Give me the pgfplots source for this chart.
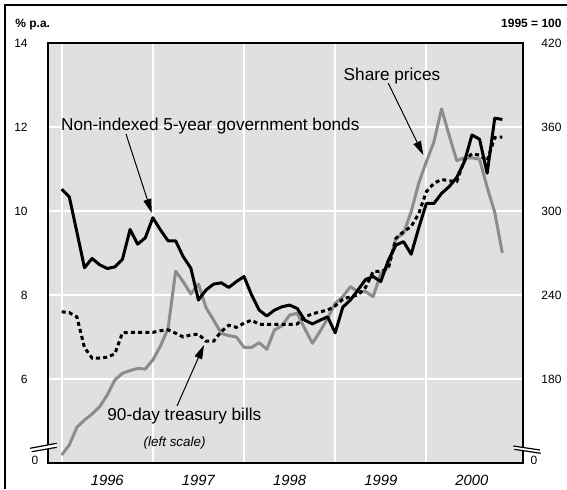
\documentclass[border=0pt]{standalone}
\usepackage{pgfplots}
\pgfplotsset{compat=1.18}
\usepackage{pgfplotstable}
\usepackage{fontspec}
\setmainfont{Liberation Sans}
\usetikzlibrary{arrows.meta}

\definecolor{panel}{RGB}{224,224,224}
\definecolor{shares}{RGB}{140,140,140}

% m = months since Jan 1996; bond and bills in % p.a., shares 1995 = 100
\pgfplotstableread{
m  bond   bills  shares
0  10.52  7.60   125.7
1  10.34  7.58   132.9
2  9.50   7.48   145.5
3  8.65   6.75   150.7
4  8.87   6.50   155.0
5  8.72   6.50   160.2
6  8.63   6.52   168.6
7  8.67   6.60   179.3
8  8.85   7.10   184.1
9  9.56   7.11   186.0
10 9.21   7.11   187.5
11 9.36   7.11   187.1
12 9.84   7.11   193.6
13 9.55   7.15   203.6
14 9.29   7.17   216.0
15 9.29   7.09   257.0
16 8.91   7.00   249.5
17 8.64   7.05   240.7
18 7.88   7.07   247.9
19 8.12   6.90   231.0
20 8.26   6.90   222.0
21 8.29   7.13   212.6
22 8.18   7.28   211.0
23 8.32   7.23   210.0
24 8.44   7.33   202.6
25 8.00   7.40   202.6
26 7.64   7.30   205.9
27 7.50   7.30   201.2
28 7.64   7.30   215.0
29 7.72   7.30   218.0
30 7.76   7.30   225.7
31 7.68   7.31   226.9
32 7.40   7.48   216.0
33 7.31   7.55   205.5
34 7.40   7.60   214.0
35 7.48   7.64   223.3
36 7.10   7.74   234.1
37 7.71   7.90   238.8
38 7.88   7.96   246.0
39 8.12   8.00   242.4
40 8.37   8.18   242.4
41 8.44   8.56   238.8
42 8.32   8.56   255.5
43 8.83   8.64   260.2
44 9.19   9.35   280.5
45 9.27   9.51   284.1
46 8.97   9.63   299.5
47 9.60   9.94   320.0
48 10.18  10.46  335.2
49 10.18  10.66  349.5
50 10.42  10.75  373.0
51 10.58  10.72  354.0
52 10.80  10.70  336.0
53 11.17  11.21  338.0
54 11.81  11.36  338.0
55 11.71  11.33  337.0
56 10.90  11.20  317.0
57 12.21  11.75  299.0
58 12.18  11.76  270.0
}\rates

\begin{document}
\begin{tikzpicture}
% right scale: panel, grid, year labels, share prices
\begin{axis}[
    scale only axis,
    width=237.5pt, height=210pt,
    xmin=-1.8, xmax=60.72,
    ymin=120, ymax=420,
    axis background/.style={fill=panel},
    axis line style={black, line width=0.6pt},
    ytick={180,240,300,360,420},
    yticklabel pos=right,
    yticklabel style={anchor=west, inner sep=0pt, xshift=9pt, font=\fontsize{6}{7}\selectfont},
    xtick={6,18,30,42,54},
    xticklabels={1996,1997,1998,1999,2000},
    xticklabel style={anchor=north, inner sep=0pt, yshift=-5.85pt, font=\fontsize{7.4}{8}\selectfont\itshape},
    extra x ticks={0,12,24,36,48},
    extra x tick labels={,,,,},
    extra x tick style={grid=major},
    ymajorgrids,
    grid style={white, line width=1pt},
    major tick length=0pt,
    /pgf/number format/assume math mode=true,
    /pgf/number format/1000 sep={},
]
\addplot[shares, line width=1.5pt, line join=round] table[x=m, y=shares]{\rates};
\end{axis}
% left scale: bonds and bills
\begin{axis}[
    scale only axis,
    width=237.5pt, height=210pt,
    xmin=-1.8, xmax=60.72,
    ymin=4, ymax=14,
    axis line style={black, line width=0.6pt},
    ytick={6,8,10,12,14},
    yticklabel style={anchor=east, inner sep=0pt, xshift=-10pt, font=\fontsize{6}{7}\selectfont},
    xtick=\empty,
    major tick length=0pt,
    /pgf/number format/assume math mode=true,
]
\addplot[black, line width=1.5pt, dash pattern=on 2pt off 1.6pt] table[x=m, y=bills]{\rates};
\addplot[black, line width=1.5pt, line join=round] table[x=m, y=bond]{\rates};
\end{axis}

\begin{scope}[x=0.5pt, y=-0.5pt, shift={(-24pt,231.5pt)}]
  \draw[line width=0.8pt] (5,489) -- (5,5) -- (567,5);
  \node[anchor=base west, inner sep=0pt, font=\fontsize{6}{7}\selectfont\bfseries] at (15,27) {\% p.a.};
  \node[anchor=base east, inner sep=0pt, font=\fontsize{6}{7}\selectfont\bfseries] at (562,27) {1995 = 100};
  \node[anchor=base west, inner sep=0pt, font=\fontsize{8.6}{10}\selectfont] at (60.7,130) {Non-indexed 5-year government bonds};
  \node[anchor=base, inner sep=0pt, font=\fontsize{8.6}{10}\selectfont] at (392,80) {Share prices};
  \node[anchor=base west, inner sep=0pt, font=\fontsize{8.6}{10}\selectfont] at (107,420) {90-day treasury bills};
  \node[anchor=base west, inner sep=0pt, font=\fontsize{6.7}{8}\selectfont\itshape] at (143.3,446) {(left scale)};
  \draw[line width=0.5pt, -{Triangle[length=7pt,width=4pt]}] (126,134) -- (151.7,213);
  \draw[line width=0.5pt, -{Triangle[length=7pt,width=4pt]}] (388.3,83.3) -- (423.3,155);
  \draw[line width=0.5pt, -{Triangle[length=7pt,width=4pt]}] (177,406) -- (204,345);
  % axis breaks
  \fill[white] (30,448.3) -- (56.7,443.3) -- (56.7,447.3) -- (31.7,451.7) -- cycle;
  \draw[line width=0.6pt] (30,448.3) -- (56.7,443.3) (31.7,451.7) -- (56.7,447.3);
  \fill[white] (513.3,446) -- (540,450) -- (540.7,453.3) -- (514.3,449.3) -- cycle;
  \draw[line width=0.6pt] (513.3,446) -- (540,450) (514.3,449.3) -- (540.7,453.3);
  \node[inner sep=0pt, font=\fontsize{6}{7}\selectfont] at (35,460.5) {0};
  \node[inner sep=0pt, font=\fontsize{6}{7}\selectfont] at (534,460) {0};
  \pgfresetboundingbox
  \path[use as bounding box] (0,0) rectangle (567,489);
\end{scope}
\end{tikzpicture}
\end{document}
